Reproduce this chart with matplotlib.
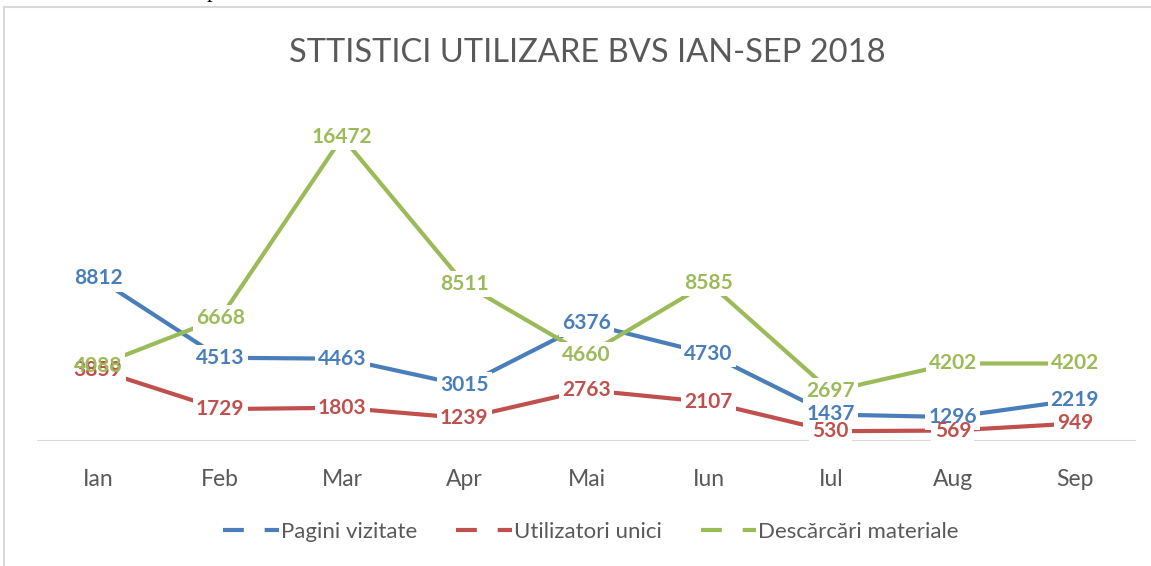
import matplotlib.pyplot as plt
from matplotlib.lines import Line2D

luni = ["Ian", "Feb", "Mar", "Apr", "Mai", "Iun", "Iul", "Aug", "Sep"]
pagini = [8812, 4513, 4463, 3015, 6376, 4730, 1437, 1296, 2219]
utilizatori = [3859, 1729, 1803, 1239, 2763, 2107, 530, 569, 949]
descarcari = [4088, 6668, 16472, 8511, 4660, 8585, 2697, 4202, 4202]
nume = ["Pagini vizitate", "Utilizatori unici", "Descărcări materiale"]
culori = ["#4A7EBB", "#C0504D", "#9BBB59"]

plt.rcParams['font.family'] = ['Lato', 'DejaVu Sans']

fig = plt.figure(figsize=(11.51, 5.66), dpi=100)
ax = fig.add_axes([37/1151, 125/566, 1099/1151, 332/566])

x = list(range(len(luni)))
serii = [pagini, utilizatori, descarcari]
for vals, c in zip(serii, culori):
    ax.plot(x, vals, color=c, lw=3, solid_capstyle="butt", zorder=2)

# label boxes first (hide the lines), then the numbers on top
for vals, c in zip(serii, culori):
    for xi, v in zip(x, vals):
        ax.text(xi, v, str(v), ha="center", va="center", fontsize=15, fontweight="bold",
                color="white", zorder=3,
                bbox=dict(boxstyle="square,pad=0.15", fc="white", ec="none"))
for vals, c in zip(serii, culori):
    for xi, v in zip(x, vals):
        ax.text(xi, v, str(v), ha="center", va="center", fontsize=15, fontweight="bold",
                color=c, zorder=4)

ax.set_xlim(-0.5, len(luni) - 0.5)
ax.set_ylim(0, 18000)
ax.axhline(0, color="#D9D9D9", lw=1.5, zorder=1)
for s in ax.spines.values():
    s.set_visible(False)
ax.set_yticks([])
ax.set_xticks(x)
ax.set_xticklabels(luni, fontsize=16.5, color="#595959")
ax.tick_params(axis="x", length=0, pad=20)

fig.text(0.51, 1 - 53/566, "STTISTICI UTILIZARE BVS IAN-SEP 2018", ha="center", va="center",
         fontsize=23.5, color="#595959")

handles = [Line2D([0], [0], color=c, lw=3, dashes=(5, 5)) for c in culori]
fig.legend(handles, nume, loc="center", bbox_to_anchor=(0.5135, 1 - 532/566), ncol=3,
           frameon=False, fontsize=16, labelcolor="#595959", handlelength=2.5,
           handletextpad=0.1, columnspacing=1.75)

# chart frame and the cut text above it
fig.add_artist(Line2D([4/1151, 4/1151], [0, 1 - 7/566], color="#D9D9D9", lw=1.5))
fig.add_artist(Line2D([4/1151, 1], [1 - 7/566, 1 - 7/566], color="#D9D9D9", lw=1.5))
fig.text(93/1151, 1 + 3/566, "materialele aplicate.", fontsize=16, family="Liberation Serif",
         color="black", va="baseline")

fig.savefig("out.png", dpi=100)
